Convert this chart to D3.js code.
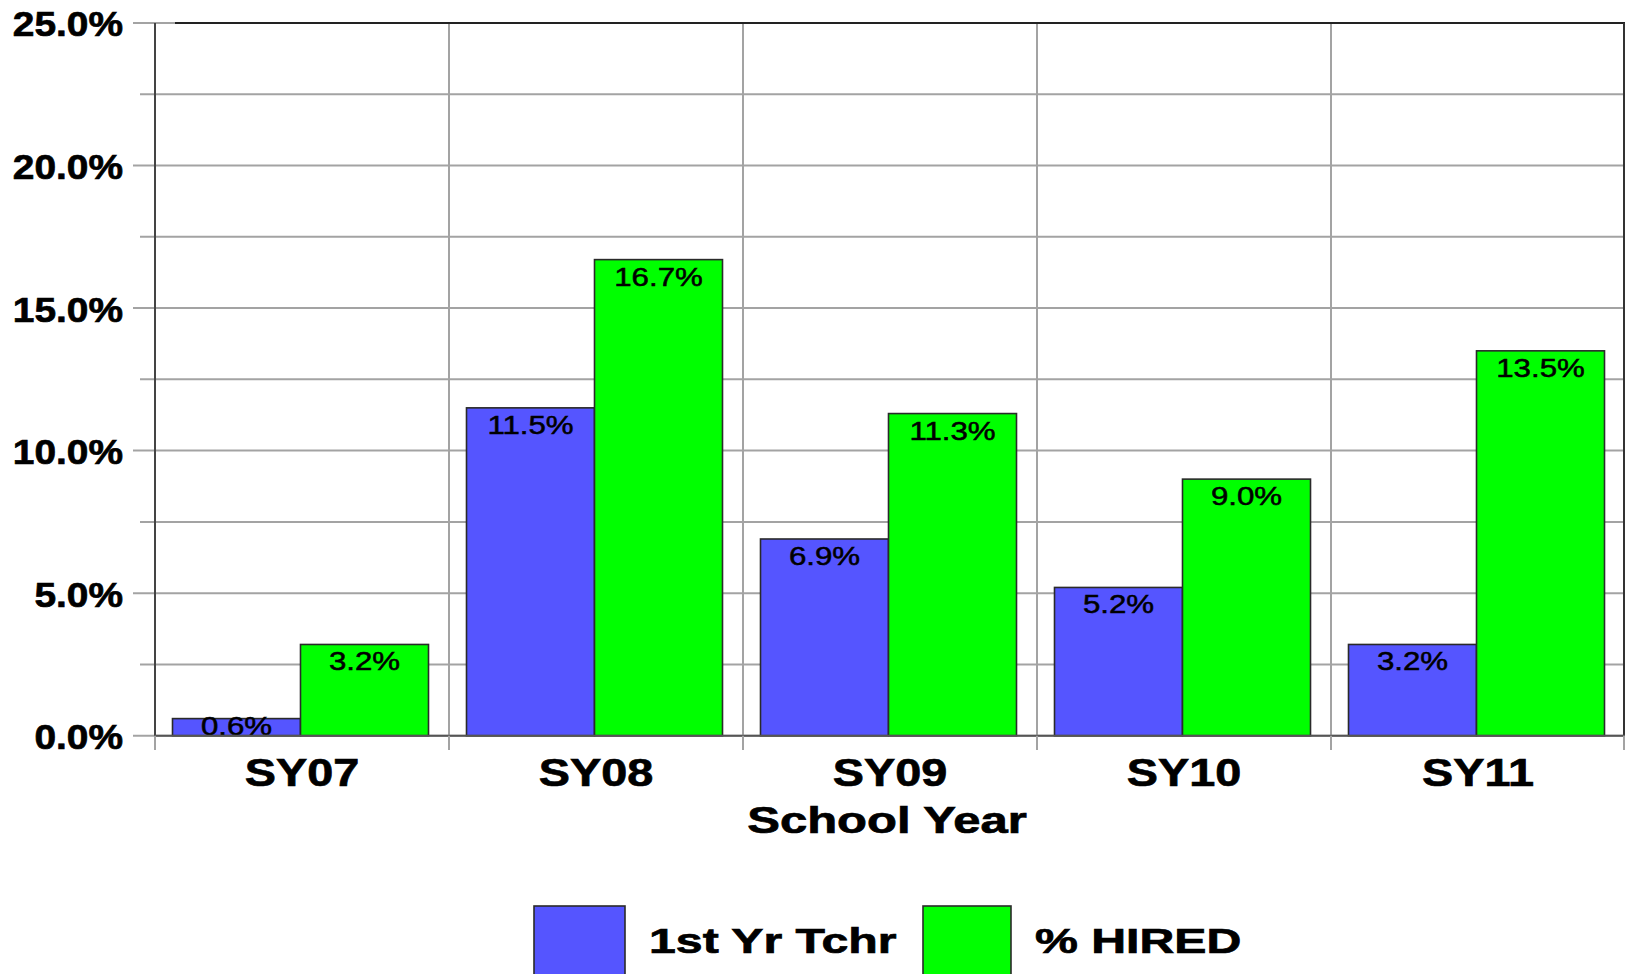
<!DOCTYPE html>
<html>
<head>
<meta charset="utf-8">
<script src="https://cdn.jsdelivr.net/npm/d3@7"></script>
<style>
  html, body { margin: 0; padding: 0; background: #fff; }
  svg { display: block; }
  text { font-family: "Liberation Sans", Arial, sans-serif; fill: #000; }
  text.heavy { stroke: #000; stroke-width: 0.7px; }
  text.val { stroke: #000; stroke-width: 0.5px; }
</style>
</head>
<body>
<svg id="chart" width="1626" height="974"></svg>
<script>
// School years on the category axis
const categories = ["SY07", "SY08", "SY09", "SY10", "SY11"];
// Series names (legend order)
const seriesNames = ["1st Yr Tchr", "% HIRED"];
// Percent of first-year teachers per school year
const firstYearTeachers = [0.6, 11.5, 6.9, 5.2, 3.2];
// Percent hired per school year
const hiredPct = [3.2, 16.7, 11.3, 9.0, 13.5];
// Labelled ticks on the value axis
const yTickValues = [0, 5, 10, 15, 20, 25];
const yTickLabels = ["0.0%", "5.0%", "10.0%", "15.0%", "20.0%", "25.0%"];
// All gridline positions (labelled + minor)
const yGridValues = [0, 2.5, 5, 7.5, 10, 12.5, 15, 17.5, 20, 22.5, 25];

const seriesColors = ["#5555ff", "#00ff00"];
const seriesValues = [firstYearTeachers, hiredPct];

const svg = d3.select("#chart");
const plot = { left: 155, right: 1625, top: 23, bottom: 735.7 };

const y = d3.scaleLinear().domain([0, 25]).range([plot.bottom, plot.top]);
const x0 = d3.scaleBand().domain(categories).range([plot.left, plot.right]).padding(0);
const x1 = d3.scaleBand().domain(seriesNames).range([17.5, x0.bandwidth() - 20.5]).padding(0);

// Stretch text horizontally around its anchor point
function stretch(sel, sx) {
  sel.each(function () {
    const t = d3.select(this);
    const tx = +t.attr("x") || 0;
    const ty = +t.attr("y") || 0;
    t.attr("x", 0).attr("y", 0)
     .attr("transform", `translate(${tx},${ty}) scale(${sx},1)`);
  });
}

// Horizontal gridlines
svg.append("g").attr("class", "hgrid")
  .selectAll("line").data(yGridValues).join("line")
  .attr("x1", d => yTickValues.includes(d) ? 133 : 140)
  .attr("x2", plot.right)
  .attr("y1", d => y(d)).attr("y2", d => y(d))
  .attr("stroke", "#a3a3a3").attr("stroke-width", 2);

// Vertical gridlines at category boundaries
const boundaries = categories.map(c => x0(c)).concat([plot.right]);
svg.append("g").attr("class", "vgrid")
  .selectAll("line").data(boundaries.slice(1, -1)).join("line")
  .attr("x1", d => d).attr("x2", d => d)
  .attr("y1", plot.top).attr("y2", 750)
  .attr("stroke", "#a3a3a3").attr("stroke-width", 2);

// Frame: top and right borders
svg.append("line").attr("x1", 175).attr("x2", plot.right).attr("y1", plot.top).attr("y2", plot.top)
  .attr("stroke", "#222").attr("stroke-width", 2);
svg.append("line").attr("x1", plot.right - 1).attr("x2", plot.right - 1).attr("y1", plot.top).attr("y2", 750)
  .attr("stroke", "#333").attr("stroke-width", 2);

// Value axis
const yAxis = svg.append("g").attr("transform", `translate(${plot.left},0)`)
  .call(d3.axisLeft(y).tickValues(yTickValues)
    .tickFormat((d, i) => yTickLabels[i]).tickSize(0).tickPadding(32));
yAxis.select(".domain").remove();
yAxis.selectAll("text")
  .attr("class", "heavy")
  .attr("font-size", 36).attr("font-weight", "bold")
  .attr("font-family", "'Liberation Sans', Arial, sans-serif")
  .attr("dy", "0.36em");
stretch(yAxis.selectAll("text"), 1.08);
svg.append("line").attr("x1", plot.left).attr("x2", plot.left)
  .attr("y1", plot.top).attr("y2", 750).attr("stroke", "#444").attr("stroke-width", 2);

// Bars
const groups = svg.append("g").selectAll("g").data(categories).join("g")
  .attr("transform", d => `translate(${x0(d)},0)`);

groups.selectAll("rect")
  .data((c, i) => seriesNames.map((s, k) => ({ s, k, v: seriesValues[k][i] })))
  .join("rect")
  .attr("x", d => x1(d.s))
  .attr("width", x1.bandwidth())
  .attr("y", d => y(d.v))
  .attr("height", d => y(0) - y(d.v))
  .attr("fill", d => seriesColors[d.k])
  .attr("stroke", "#2a2a2a").attr("stroke-width", 1.6);

// Value labels inside bar tops
const valueLabels = groups.selectAll("text.val")
  .data((c, i) => seriesNames.map((s, k) => ({ s, k, v: seriesValues[k][i] })))
  .join("text").attr("class", "val")
  .attr("x", d => x1(d.s) + x1.bandwidth() / 2)
  .attr("y", d => Math.min(y(d.v) + 26, y(0) - 1))
  .attr("text-anchor", "middle")
  .attr("font-size", 25)
  .text(d => d.v.toFixed(1) + "%");
stretch(valueLabels, 1.25);

// Zero baseline
svg.append("line").attr("x1", plot.left).attr("x2", plot.right)
  .attr("y1", y(0)).attr("y2", y(0)).attr("stroke", "#555").attr("stroke-width", 2);

// Category axis
const xAxis = svg.append("g").attr("transform", `translate(0,${y(0)})`)
  .call(d3.axisBottom(x0).tickSize(0).tickPadding(0));
xAxis.select(".domain").remove();
xAxis.selectAll("text")
  .attr("class", "heavy")
  .attr("font-size", 39).attr("font-weight", "bold")
  .attr("font-family", "'Liberation Sans', Arial, sans-serif")
  .attr("dy", null).attr("y", 50);
stretch(xAxis.selectAll("text"), 1.2);

// Tick marks below the baseline at category boundaries
svg.append("g").selectAll("line").data([plot.left].concat(boundaries.slice(1, -1), [plot.right - 1])).join("line")
  .attr("x1", d => d).attr("x2", d => d)
  .attr("y1", y(0)).attr("y2", 750)
  .attr("stroke", "#a3a3a3").attr("stroke-width", 2);

// Axis title
const title = svg.append("text")
  .attr("class", "heavy")
  .attr("x", (plot.left + plot.right) / 2 - 3).attr("y", 833)
  .attr("text-anchor", "middle").attr("font-size", 36).attr("font-weight", "bold")
  .text("School Year");
stretch(title, 1.36);

// Legend
const legendItems = [
  { name: seriesNames[0], color: seriesColors[0], box: 534, boxW: 91, textX: 649 },
  { name: seriesNames[1], color: seriesColors[1], box: 923, boxW: 88, textX: 1035 }
];
const legend = svg.append("g");
legend.selectAll("rect").data(legendItems).join("rect")
  .attr("x", d => d.box).attr("y", 906).attr("width", d => d.boxW).attr("height", 90)
  .attr("fill", d => d.color).attr("stroke", "#2a2a2a").attr("stroke-width", 1.6);
const legendText = legend.selectAll("text").data(legendItems).join("text")
  .attr("class", "heavy")
  .attr("x", d => d.textX).attr("y", 953)
  .attr("font-size", 36).attr("font-weight", "bold")
  .text(d => d.name);
stretch(legendText, 1.34);
</script>
</body>
</html>
